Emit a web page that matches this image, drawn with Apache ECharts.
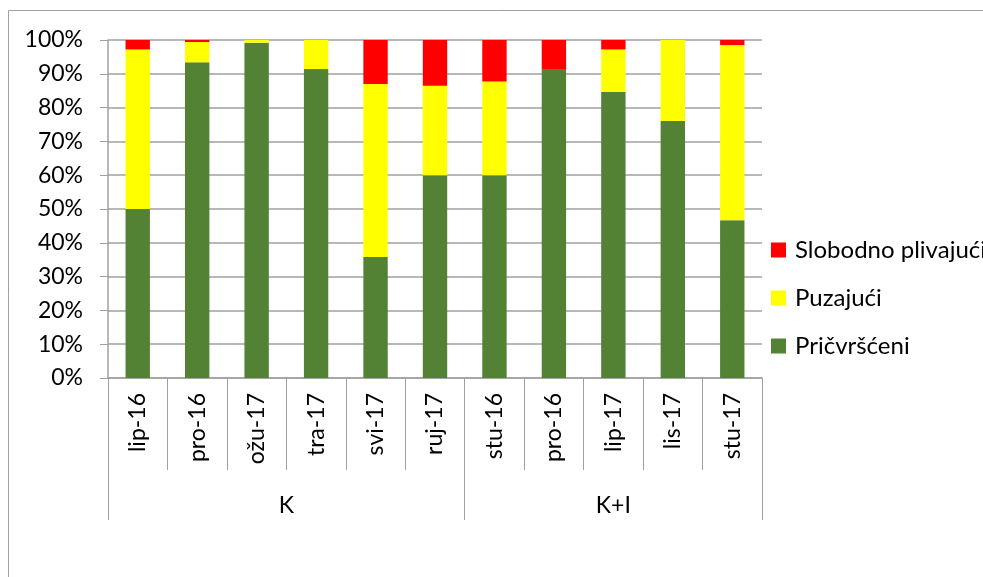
<!DOCTYPE html>
<html><head><meta charset="utf-8">
<script src="https://cdn.jsdelivr.net/npm/echarts@6/dist/echarts.min.js"></script>
<style>html,body{margin:0;padding:0;background:#fff}#c{width:983px;height:577px}</style>
</head><body><div id="c"></div>
<script>
const categories = ['lip-16','pro-16','ožu-17','tra-17','svi-17','ruj-17','stu-16','pro-16','lip-17','lis-17','stu-17'];
const groups = ['K','K+I'];
const groupSizes = [6,5];
const pricvrsceni = [50, 93.4, 99.2, 91.4, 35.8, 60, 60, 91.4, 84.6, 76, 46.7];
const puzajuci    = [47.2, 6, 0.8, 8.6, 51.2, 26.5, 27.7, 0, 12.6, 24, 51.8];
const slobodno    = [2.8, 0.6, 0, 0, 13, 13.5, 12.3, 8.6, 2.8, 0, 1.5];
const yTicks = [0,10,20,30,40,50,60,70,80,90,100];

const FONT = 'Lato';
const n = categories.length;
const bounds = [0]; groupSizes.forEach(s => bounds.push(bounds[bounds.length-1] + s));
const centers = groupSizes.map((s,i) => bounds[i] + s/2);

const chart = echarts.init(document.getElementById('c'), null, {renderer:'canvas'});
chart.setOption({
  animation: false,
  textStyle: {fontFamily: FONT},
  graphic: [{type:'rect', shape:{x:8.5,y:10.5,width:1000,height:600}, style:{fill:'none', stroke:'#a0a0a0', lineWidth:1}}],
  grid: {left:108, right:221, top:40, bottom:199},
  legend: {
    orient:'vertical', left:766, top:233, itemGap:24, itemWidth:15, itemHeight:15,
    icon:'rect',
    data:['Slobodno plivajući','Puzajući','Pričvršćeni'],
    textStyle:{fontSize:24, color:'#000', fontFamily:FONT, padding:[0,0,0,4]}
  },
  xAxis: [{
    type:'category', data:categories, position:'bottom',
    axisLine:{lineStyle:{color:'#a0a0a0', width:1.5}},
    axisTick:{show:true, interval:0, length:92, lineStyle:{color:'#a0a0a0'}},
    axisLabel:{interval:0, rotate:90, fontSize:23, color:'#000', margin:15, fontFamily:FONT},
    splitLine:{show:false}
  },{
    type:'value', min:0, max:n, position:'bottom',
    axisLine:{show:false},
    splitLine:{show:false},
    axisTick:{show:true, customValues:bounds, length:142, lineStyle:{color:'#a0a0a0'}},
    axisLabel:{show:true, customValues:centers, margin:116, fontSize:23, color:'#000', fontFamily:FONT,
      formatter: v => { const i = centers.indexOf(v); return i>=0 ? groups[i] : ''; }}
  }],
  yAxis: {
    type:'value', min:0, max:100, interval:10,
    axisLine:{show:true, lineStyle:{color:'#a0a0a0', width:1.5}},
    axisTick:{show:true, length:8, lineStyle:{color:'#a0a0a0'}},
    axisLabel:{formatter: v => yTicks.includes(v) ? v + '%' : '', fontSize:23, color:'#000', margin:25, fontFamily:FONT},
    splitLine:{lineStyle:{color:'#a0a0a0', width:1.5}}
  },
  series: [
    {name:'Pričvršćeni', type:'bar', stack:'a', data:pricvrsceni, barWidth:'41%', itemStyle:{color:'#548235'}},
    {name:'Puzajući', type:'bar', stack:'a', data:puzajuci, barWidth:'41%', itemStyle:{color:'#FFFF00'}},
    {name:'Slobodno plivajući', type:'bar', stack:'a', data:slobodno, barWidth:'41%', itemStyle:{color:'#FF0000'}}
  ]
});
</script></body></html>
